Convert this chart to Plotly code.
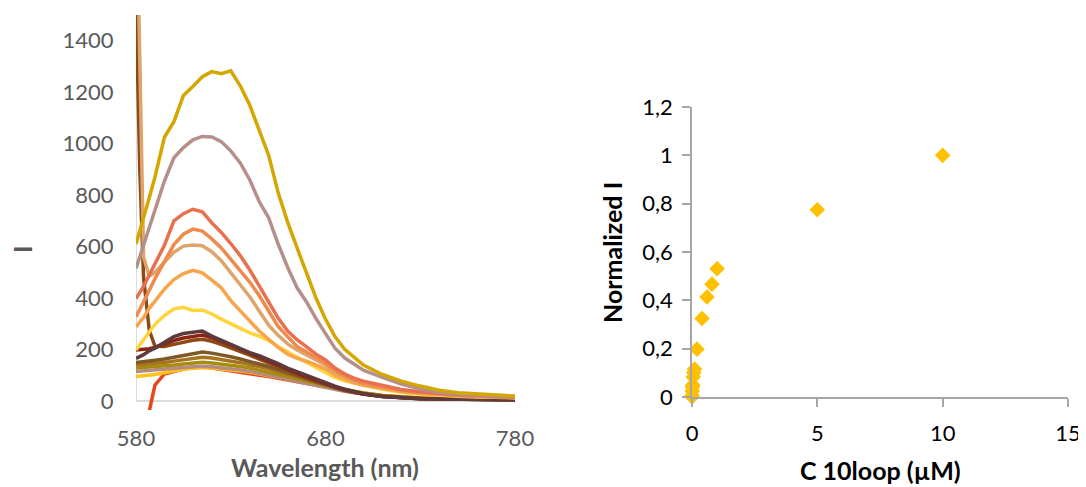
import plotly.graph_objects as go

# ---------------- data: left panel (emission spectra) ----------------
wavelength = [580, 582, 584, 587, 590, 595, 600, 605, 610, 615, 620, 625, 630, 635,
              640, 645, 650, 655, 660, 665, 670, 675, 680, 685, 690, 695, 700,
              710, 720, 730, 740, 750, 760, 770, 780]

spec_gold = [610, 660, 705, 790, 870, 1025, 1085, 1187, 1222, 1260, 1280, 1272, 1283, 1225,
             1150, 1050, 955, 810, 695, 595, 500, 400, 318, 250, 202, 170, 140,
             103, 77, 58, 42, 32, 27, 22, 19]
spec_mauve = [515, 560, 610, 680, 740, 855, 945, 985, 1015, 1028, 1026, 1008, 972, 925,
              860, 775, 712, 610, 520, 440, 385, 320, 262, 205, 168, 142, 120,
              92, 66, 47, 34, 27, 21, 18, 16]
spec_red = [398, 420, 445, 490, 535, 605, 700, 728, 745, 735, 692, 655, 612, 565,
            510, 448, 385, 322, 272, 238, 210, 182, 160, 128, 106, 89, 77,
            60, 45, 36, 29, 23, 20, 17, 15]
spec_orange = [327, 355, 385, 430, 475, 540, 608, 648, 668, 660, 630, 595, 550, 508,
               462, 410, 350, 290, 250, 212, 190, 170, 148, 118, 98, 82, 70,
               55, 42, 33, 27, 22, 19, 16, 14]
spec_tan = [2100, 1350, 560, 485, 500, 540, 578, 602, 606, 603, 580, 545, 498, 455,
            405, 350, 295, 255, 222, 198, 178, 160, 140, 112, 94, 79, 68,
            53, 40, 32, 26, 21, 18, 16, 14]
spec_lightorange = [288, 305, 325, 360, 390, 435, 472, 495, 508, 498, 470, 440, 390, 352,
                    312, 272, 240, 208, 182, 166, 155, 140, 125, 100, 84, 71, 61,
                    48, 37, 29, 24, 20, 17, 15, 13]
spec_yellow = [198, 218, 240, 272, 298, 332, 358, 364, 352, 354, 338, 318, 300, 282,
               265, 252, 235, 212, 190, 170, 150, 130, 110, 92, 78, 69, 62,
               46, 34, 26, 21, 18, 16, 14, 13]
spec_darkpurple = [165, 172, 180, 195, 205, 228, 250, 262, 268, 272, 252, 236, 222, 205,
                   188, 176, 162, 145, 128, 114, 98, 84, 72, 58, 46, 36, 28,
                   17, 12, 9, 8, 7, 6, 6, 5]
spec_darkred = [198, 199, 200, 203, 208, 222, 235, 245, 252, 256, 246, 233, 218, 202,
                186, 170, 154, 138, 122, 108, 94, 80, 67, 55, 44, 35, 27,
                17, 12, 9, 8, 7, 6, 6, 5]
spec_brown = [1540, 900, 480, 275, 213, 212, 220, 228, 236, 240, 232, 220, 207, 192,
              178, 163, 148, 133, 118, 104, 90, 77, 65, 53, 43, 34, 27,
              17, 12, 9, 8, 7, 6, 6, 5]
spec_olivebrown = [150, 151, 152, 155, 158, 163, 170, 178, 185, 190, 186, 180, 172, 163,
                   154, 144, 134, 122, 110, 97, 85, 73, 62, 51, 41, 33, 27,
                   18, 13, 10, 8, 7, 6, 6, 5]
spec_goldbrown = [140, 141, 142, 143, 145, 150, 155, 160, 166, 170, 167, 162, 156, 149,
                  142, 134, 125, 114, 103, 92, 82, 72, 62, 53, 44, 37, 30,
                  20, 14, 11, 9, 8, 7, 6, 6]
spec_olive = [128, 129, 130, 131, 132, 136, 140, 144, 148, 151, 148, 144, 140, 134,
              128, 120, 112, 104, 95, 87, 78, 69, 60, 52, 44, 37, 31,
              21, 15, 12, 10, 8, 7, 7, 6]
spec_lowmauve = [115, 116, 117, 118, 120, 122, 125, 130, 133, 135, 133, 130, 126, 121,
                 115, 108, 100, 92, 84, 76, 68, 60, 52, 45, 38, 32, 27,
                 19, 14, 11, 9, 8, 7, 6, 6]
spec_lowyellow = [95, 96, 97, 100, 103, 110, 118, 123, 127, 130, 128, 125, 122, 117,
                  112, 106, 100, 93, 86, 79, 72, 64, 57, 49, 42, 36, 31,
                  22, 16, 12, 10, 9, 8, 7, 7]
spec_bottomred = [-2500, -1400, -600, -40, 62, 105, 116, 124, 129, 132, 128, 123, 118, 113,
                  107, 101, 95, 88, 81, 74, 67, 60, 53, 46, 39, 33, 28,
                  20, 14, 11, 9, 8, 7, 6, 6]

# ---------------- data: right panel (titration) ----------------
conc_uM = [0, 0.005, 0.01, 0.02, 0.03, 0.05, 0.07, 0.1, 0.2, 0.4, 0.6, 0.8, 1.0, 5, 10]
norm_I = [0, 0.007, 0.025, 0.041, 0.05, 0.083, 0.101, 0.116, 0.198, 0.325, 0.414, 0.467, 0.531, 0.775, 1.0]

left_xticks = [580, 680, 780]
left_yticks = [0, 200, 400, 600, 800, 1000, 1200, 1400]
right_xticks = [0, 5, 10, 15]
right_yticks = [0, 0.2, 0.4, 0.6, 0.8, 1.0, 1.2]
right_yticklabels = ["0", "0,2", "0,4", "0,6", "0,8", "1", "1,2"]

# ---------------- figure ----------------
# the page places the figure 8 px from the window's top-left corner
OFF = 8
W, H = 1086 - OFF, 487 - OFF
FONT = "Lato"
TICK_SIZE = 22
TITLE_SIZE = 25

series = [
    (spec_bottomred, "#E6481E"),
    (spec_lowyellow, "#FFC21A"),
    (spec_lowmauve, "#B58A80"),
    (spec_olive, "#A68C10"),
    (spec_goldbrown, "#A8741E"),
    (spec_olivebrown, "#7E5A26"),
    (spec_brown, "#8E4A14"),
    (spec_darkred, "#8C2414"),
    (spec_darkpurple, "#5E3A3C"),
    (spec_yellow, "#FFD43B"),
    (spec_lightorange, "#F7A44A"),
    (spec_tan, "#DDA56A"),
    (spec_orange, "#F08A4B"),
    (spec_red, "#E8704E"),
    (spec_mauve, "#B5908A"),
    (spec_gold, "#D4A600"),
]

fig = go.Figure()
for ys, col in series:
    fig.add_trace(go.Scatter(x=wavelength, y=ys, mode="lines",
                             line=dict(color=col, width=3.5),
                             xaxis="x", yaxis="y", hoverinfo="skip"))

fig.add_trace(go.Scatter(x=conc_uM, y=norm_I, mode="markers",
                         marker=dict(symbol="diamond", size=12, color="#FFC000"),
                         cliponaxis=False, xaxis="x2", yaxis="y2"))

def px_x(p):
    return (p - OFF) / W

def px_y(p):
    return (H - (p - OFF)) / H

gray_lbl = "#595959"
fig.update_layout(
    width=W, height=H, autosize=False,
    margin=dict(l=0, r=0, t=0, b=0),
    paper_bgcolor="white", plot_bgcolor="white",
    showlegend=False,
    font=dict(family=FONT, size=TICK_SIZE, color=gray_lbl),
    xaxis=dict(domain=[px_x(136), px_x(515)], range=[580, 780], anchor="y",
               automargin=False,
               tickvals=left_xticks, showgrid=False, zeroline=False, showline=False,
               ticks="outside", ticklen=9, tickcolor="rgba(0,0,0,0)",
               tickfont=dict(family=FONT, size=TICK_SIZE, color=gray_lbl)),
    yaxis=dict(domain=[px_y(410), px_y(15)], range=[-35, 1500], anchor="x",
               automargin=False,
               tickvals=left_yticks, showgrid=False, zeroline=False, showline=False,
               ticks="outside", ticklen=17, tickcolor="rgba(0,0,0,0)",
               tickfont=dict(family=FONT, size=TICK_SIZE, color=gray_lbl)),
    xaxis2=dict(domain=[px_x(692), px_x(1068)], range=[0, 15], anchor="y2",
                automargin=False,
                tickvals=right_xticks, showgrid=False, zeroline=False,
                showline=True, linecolor="#A6A6A6", linewidth=1.5,
                ticks="outside", ticklen=8, tickcolor="#A6A6A6", tickwidth=1.5,
                ticklabelstandoff=8,
                tickfont=dict(family=FONT, size=TICK_SIZE, color="black")),
    yaxis2=dict(domain=[px_y(397), px_y(107)], range=[0, 1.2], anchor="x2",
                automargin=False,
                tickvals=right_yticks, ticktext=right_yticklabels,
                showgrid=False, zeroline=False,
                showline=True, linecolor="#A6A6A6", linewidth=1.5,
                ticks="outside", ticklen=8, tickcolor="#A6A6A6", tickwidth=1.5,
                ticklabelstandoff=5,
                tickfont=dict(family=FONT, size=TICK_SIZE, color="black")),
    shapes=[
        dict(type="line", xref="x", yref="y", x0=580, x1=580, y0=0, y1=1500,
             line=dict(color="#D0D0D0", width=1.5), layer="below"),
        dict(type="line", xref="x", yref="y", x0=580, x1=780, y0=0, y1=0,
             line=dict(color="#D0D0D0", width=1.5), layer="below"),
    ],
    annotations=[
        dict(text="<b>I</b>", x=px_x(22), y=px_y(250), xref="paper", yref="paper",
             textangle=-90, showarrow=False, xanchor="center", yanchor="middle",
             font=dict(family=FONT, size=TITLE_SIZE, color=gray_lbl)),
        dict(text="<b>Wavelength (nm)</b>", x=px_x(325), y=px_y(467), xref="paper", yref="paper",
             showarrow=False, xanchor="center", yanchor="middle",
             font=dict(family=FONT, size=TITLE_SIZE, color=gray_lbl)),
        dict(text="<b>Normalized I</b>", x=px_x(612), y=px_y(253), xref="paper", yref="paper",
             textangle=-90, showarrow=False, xanchor="center", yanchor="middle",
             font=dict(family=FONT, size=TITLE_SIZE, color="black")),
        dict(text="<b>C 10loop (µM)</b>", x=px_x(880), y=px_y(470), xref="paper", yref="paper",
             showarrow=False, xanchor="center", yanchor="middle",
             font=dict(family=FONT, size=TITLE_SIZE, color="black")),
    ],
)

fig.write_html("out.html")
